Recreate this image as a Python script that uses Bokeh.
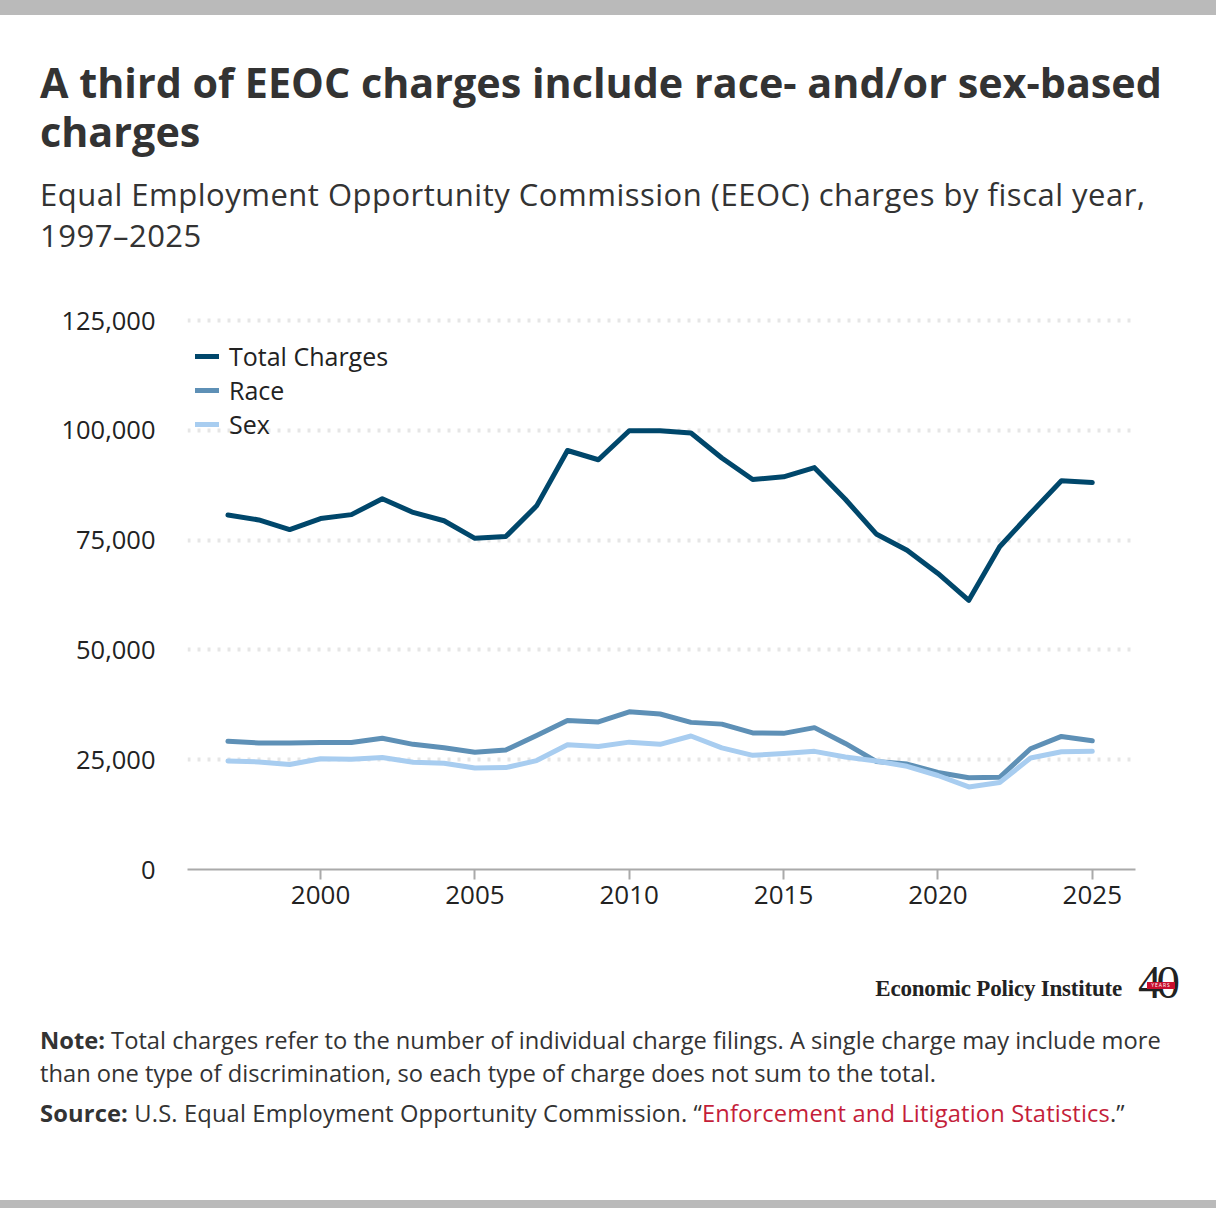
from bokeh.plotting import figure
from bokeh.models import Range1d, Div, Legend, LegendItem, NumeralTickFormatter, FixedTicker
from bokeh.layouts import column
from bokeh.embed import file_html
from bokeh.resources import INLINE

years = list(range(1997, 2026))
total_charges = [80700, 79600, 77400, 79900, 80800, 84400, 81300, 79400, 75400, 75800,
                 82800, 95400, 93300, 99900, 99900, 99400, 93700, 88800, 89400, 91500,
                 84300, 76400, 72700, 67400, 61300, 73500, 81100, 88500, 88100]
race_charges = [29200, 28800, 28800, 28900, 28900, 29900, 28500, 27700, 26700, 27200,
                30500, 33900, 33600, 35900, 35400, 33500, 33100, 31100, 31000, 32300,
                28700, 24600, 24000, 22100, 20900, 21000, 27500, 30300, 29300]
sex_charges = [24700, 24500, 23900, 25200, 25100, 25500, 24400, 24200, 23100, 23200,
               24800, 28400, 28000, 29000, 28500, 30400, 27700, 26000, 26400, 26900,
               25600, 24700, 23500, 21400, 18800, 19800, 25400, 26800, 26900]
series_names = ["Total Charges", "Race", "Sex"]
y_ticks = [0, 25000, 50000, 75000, 100000, 125000]
x_ticks = [2000, 2005, 2010, 2015, 2020, 2025]

colors = ["#00476b", "#5e90b6", "#a8cdf0"]
FONT = "Open Sans"

p = figure(width=1216, height=640, output_backend="svg", toolbar_location=None,
           x_range=Range1d(1995.69, 2026.4), y_range=Range1d(0, 127280),
           min_border_left=187, min_border_right=81, min_border_top=20, min_border_bottom=61,
           outline_line_color=None, background_fill_color="white", border_fill_color="white",
           margin=0)

p.xgrid.grid_line_color = None
p.ygrid.ticker = FixedTicker(ticks=y_ticks)
p.ygrid.grid_line_color = "#e6e6e6"
p.ygrid.grid_line_width = 4
p.ygrid.grid_line_dash = "3 7"

p.yaxis.ticker = FixedTicker(ticks=y_ticks)
p.yaxis.formatter = NumeralTickFormatter(format="0,0")
p.yaxis.axis_line_color = None
p.yaxis.major_tick_line_color = None
p.yaxis.minor_tick_line_color = None
p.yaxis.major_label_standoff = 26
p.yaxis.major_label_text_font = FONT
p.yaxis.major_label_text_font_size = "25.5px"
p.yaxis.major_label_text_color = "#222222"

p.xaxis.ticker = FixedTicker(ticks=x_ticks)
p.xaxis.axis_line_color = "#aaaaaa"
p.xaxis.axis_line_width = 2
p.xaxis.major_tick_line_color = "#aaaaaa"
p.xaxis.major_tick_line_width = 2
p.xaxis.major_tick_out = 10
p.xaxis.major_tick_in = 0
p.xaxis.minor_tick_line_color = None
p.xaxis.major_label_standoff = 6
p.xaxis.major_label_text_font = FONT
p.xaxis.major_label_text_font_size = "26px"
p.xaxis.major_label_text_color = "#222222"

renderers = []
for vals, c in zip([total_charges, race_charges, sex_charges], colors):
    r = p.line(years, vals, line_color=c, line_width=5, line_join="round", line_cap="round")
    renderers.append(r)

legend = Legend(items=[LegendItem(label=n, renderers=[r]) for n, r in zip(series_names, renderers)],
                location=(8, 428), orientation="vertical")
legend.label_text_font = FONT
legend.label_text_font_size = "25px"
legend.label_text_color = "#222222"
legend.glyph_width = 24
legend.glyph_height = 24
legend.label_height = 24
legend.label_standoff = 10
legend.spacing = 0
legend.padding = 0
legend.margin = 0
legend.background_fill_alpha = 0
legend.border_line_alpha = 0
p.add_layout(legend, "center")

header_html = f"""
<div style="font-family:'{FONT}'; color:#333333; margin:0; width:1216px;">
  <div style="height:15px; background:#bababa;"></div>
  <div style="height:43px;"></div>
  <div style="height:49px; padding-left:40px; font-size:41.3px; font-weight:bold; line-height:49px; white-space:nowrap;">A third of EEOC charges include race- and/or sex-based</div>
  <div style="height:49px; padding-left:40px; font-size:41.3px; font-weight:bold; line-height:49px; white-space:nowrap;">charges</div>
  <div style="height:18px;"></div>
  <div style="height:41px; padding-left:40px; font-size:31px; line-height:41px; letter-spacing:0.5px; white-space:nowrap;">Equal Employment Opportunity Commission (EEOC) charges by fiscal year,</div>
  <div style="height:41px; padding-left:40px; font-size:31px; line-height:41px; letter-spacing:0.5px; white-space:nowrap;">1997&#8211;2025</div>
</div>
"""
header = Div(width=1216, height=290, text=header_html, margin=0)

footer_html = f"""
<div style="position:relative; font-family:'{FONT}'; color:#333333; margin:0; width:1216px; height:278px;">
  <div style="position:absolute; left:40px; top:47px; width:1136px; height:24px;">
    <span style="position:absolute; right:54px; top:0px; font-family:'Liberation Serif'; font-weight:bold; font-size:23px; line-height:24px; color:#222; white-space:nowrap; letter-spacing:-0.2px;">Economic Policy Institute</span>
    <span style="position:absolute; right:1px; top:-18px; font-family:'Liberation Serif'; font-size:47px; line-height:47px; color:#222; letter-spacing:-5px;">40</span>
    <span style="position:absolute; right:1px; top:5px; width:28px; height:7px; background:#c8102e; color:white; font-family:'{FONT}'; font-size:5px; line-height:7px; text-align:center; letter-spacing:1px;">YEARS</span>
  </div>
  <div style="position:absolute; left:40px; top:94px; font-size:23.7px; line-height:33px; white-space:nowrap;">
    <div style="height:33px;"><b>Note:</b> Total charges refer to the number of individual charge filings. A single charge may include more</div>
    <div style="height:33px;">than one type of discrimination, so each type of charge does not sum to the total.</div>
  </div>
  <div style="position:absolute; left:40px; top:167px; height:33px; font-size:23.7px; line-height:33px; letter-spacing:0.15px; white-space:nowrap;"><b>Source:</b> U.S. Equal Employment Opportunity Commission. &#8220;<span style="color:#c41e3a;">Enforcement and Litigation Statistics</span>.&#8221;</div>
  <div style="position:absolute; left:0px; top:270px; width:1216px; height:8px; background:#bababa;"></div>
</div>
"""
footer = Div(width=1216, height=278, text=footer_html, margin=0)

layout = column(header, p, footer, spacing=0, margin=0)
open("out.html", "w").write(file_html(layout, INLINE))
